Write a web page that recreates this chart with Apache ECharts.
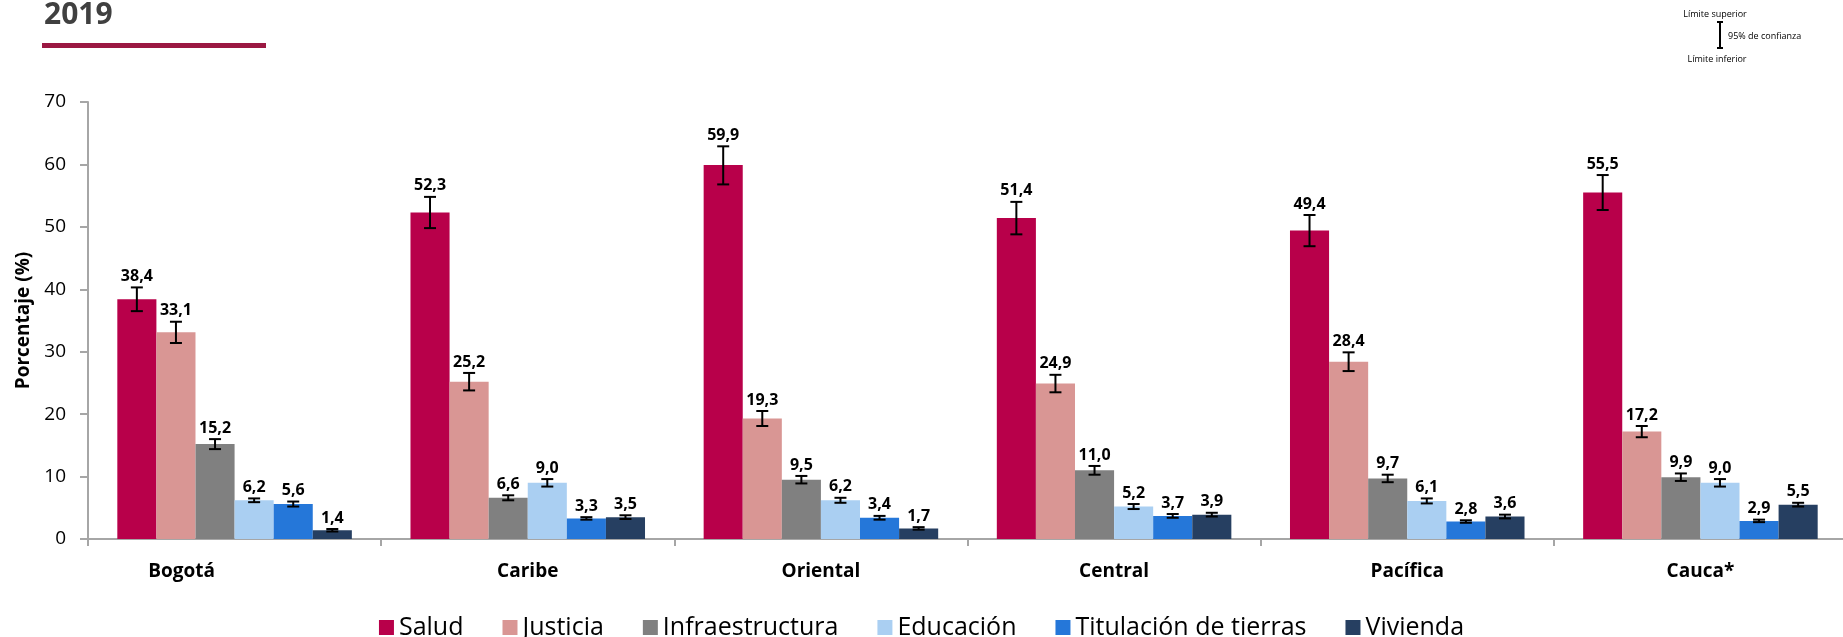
<!DOCTYPE html>
<html>
<head>
<meta charset="utf-8">
<script src="https://cdn.jsdelivr.net/npm/echarts@6/dist/echarts.min.js"></script>
<style>
html,body{margin:0;padding:0;background:#fff;}
#c{width:1843px;height:637px;}
</style>
</head>
<body>
<div id="c"></div>
<script>
const categories = ['Bogotá', 'Caribe', 'Oriental', 'Central', 'Pacífica', 'Cauca*'];
const seriesNames = ['Salud', 'Justicia', 'Infraestructura', 'Educación', 'Titulación de tierras', 'Vivienda'];
const colors = ['#B8004A', '#D99694', '#808080', '#AACFF2', '#2577D9', '#263F61'];

const salud = [38.4, 52.3, 59.9, 51.4, 49.4, 55.5];
const justicia = [33.1, 25.2, 19.3, 24.9, 28.4, 17.2];
const infraestructura = [15.2, 6.6, 9.5, 11.0, 9.7, 9.9];
const educacion = [6.2, 9.0, 6.2, 5.2, 6.1, 9.0];
const titulacion = [5.6, 3.3, 3.4, 3.7, 2.8, 2.9];
const vivienda = [1.4, 3.5, 1.7, 3.9, 3.6, 5.5];

// 95% confidence interval lower / upper limits
const saludLow = [36.5, 49.8, 56.8, 48.8, 46.9, 52.7];
const saludHigh = [40.3, 54.8, 62.9, 54.0, 51.9, 58.3];
const justiciaLow = [31.4, 23.8, 18.1, 23.5, 26.9, 16.3];
const justiciaHigh = [34.8, 26.6, 20.5, 26.3, 29.9, 18.1];
const infraLow = [14.4, 6.2, 8.9, 10.3, 9.1, 9.3];
const infraHigh = [16.0, 7.0, 10.1, 11.7, 10.3, 10.5];
const educLow = [5.9, 8.4, 5.8, 4.8, 5.7, 8.4];
const educHigh = [6.5, 9.6, 6.6, 5.6, 6.5, 9.6];
const titulLow = [5.2, 3.1, 3.1, 3.4, 2.6, 2.7];
const titulHigh = [6.0, 3.5, 3.7, 4.0, 3.0, 3.1];
const viviendaLow = [1.2, 3.2, 1.5, 3.6, 3.3, 5.2];
const viviendaHigh = [1.6, 3.8, 1.9, 4.2, 3.9, 5.8];

const yTicks = [0, 10, 20, 30, 40, 50, 60, 70];

const values = [salud, justicia, infraestructura, educacion, titulacion, vivienda];
const lows = [saludLow, justiciaLow, infraLow, educLow, titulLow, viviendaLow];
const highs = [saludHigh, justiciaHigh, infraHigh, educHigh, titulHigh, viviendaHigh];

const FONT = '"Open Sans", "Noto Sans", sans-serif';
const NSER = seriesNames.length;
const CAT_GAP = 0.2;

function fmt(v) { return v.toFixed(1).replace('.', ','); }

const series = [];
values.forEach(function (vals, i) {
  series.push({
    name: seriesNames[i],
    type: 'bar',
    data: vals,
    barGap: '0%',
    barCategoryGap: (CAT_GAP * 100) + '%',
    itemStyle: { color: colors[i] },
    emphasis: { disabled: true },
    z: 2
  });
});
values.forEach(function (vals, i) {
  series.push({
    type: 'custom',
    name: seriesNames[i] + '_err',
    data: vals.map(function (v, c) { return [c, lows[i][c], highs[i][c], v]; }),
    encode: { x: 0, y: [1, 2] },
    z: 5,
    silent: true,
    renderItem: function (params, api) {
      const c = api.value(0), lo = api.value(1), hi = api.value(2), v = api.value(3);
      const catW = api.size([1, 0])[0];
      const bw = catW * (1 - CAT_GAP) / NSER;
      const x = api.coord([c, 0])[0] + (i - (NSER - 1) / 2) * bw;
      const yLo = api.coord([c, lo])[1];
      const yHi = api.coord([c, hi])[1];
      const cap = 6;
      const ls = { stroke: '#000', lineWidth: 2 };
      return {
        type: 'group',
        children: [
          { type: 'line', shape: { x1: x, y1: yLo, x2: x, y2: yHi }, style: ls },
          { type: 'line', shape: { x1: x - cap, y1: yHi, x2: x + cap, y2: yHi }, style: ls },
          { type: 'line', shape: { x1: x - cap, y1: yLo, x2: x + cap, y2: yLo }, style: ls },
          { type: 'text', style: { text: fmt(v), x: x, y: yHi - 3, textAlign: 'center', textVerticalAlign: 'bottom', font: 'bold 16px ' + FONT, fill: '#000' } }
        ]
      };
    }
  });
});

const chart = echarts.init(document.getElementById('c'), null, { renderer: 'canvas' });
chart.setOption({
  animation: false,
  backgroundColor: '#fff',
  grid: { left: 88, right: -4, top: 102, bottom: 98, containLabel: false, outerBoundsMode: 'none' },
  legend: {
    data: seriesNames,
    top: 610,
    left: 'center',
    itemWidth: 15,
    itemHeight: 15,
    itemGap: 39,
    icon: 'rect',
    textStyle: { fontSize: 25, color: '#000', fontFamily: FONT },
    selectedMode: false
  },
  xAxis: {
    type: 'category',
    data: categories.map(function (c, k) {
      return k === 0 ? { value: c, textStyle: { padding: [0, 106, 0, 0] } } : c;
    }),
    axisLine: { lineStyle: { color: '#A6A6A6', width: 2 } },
    axisTick: { show: true, length: 7, lineStyle: { color: '#A6A6A6', width: 2 } },
    axisLabel: { fontSize: 19, fontWeight: 'bold', color: '#000', fontFamily: FONT, margin: 23 }
  },
  yAxis: {
    type: 'value',
    min: yTicks[0],
    max: yTicks[yTicks.length - 1],
    interval: 10,
    name: 'Porcentaje (%)',
    nameLocation: 'middle',
    nameGap: 55,
    nameTextStyle: { fontSize: 19, fontWeight: 'bold', color: '#000', fontFamily: FONT },
    axisLine: { show: true, lineStyle: { color: '#A6A6A6', width: 2 } },
    axisTick: { show: true, length: 8, lineStyle: { color: '#A6A6A6', width: 2 } },
    splitLine: { show: false },
    axisLabel: { fontSize: 19, color: '#000', fontFamily: FONT, margin: 22 }
  },
  graphic: [
    { type: 'text', left: 44, top: 0, style: { text: '2019', font: 'bold 30px ' + FONT, fill: '#404040' } },
    { type: 'rect', shape: { x: 42, y: 43, width: 224, height: 5 }, style: { fill: '#9B1842' } },
    { type: 'text', x: 1715, y: 14, style: { text: 'Límite superior', font: '9px ' + FONT, fill: '#000', textAlign: 'center', textVerticalAlign: 'middle' } },
    { type: 'line', shape: { x1: 1720, y1: 22, x2: 1720, y2: 48 }, style: { stroke: '#000', lineWidth: 2 } },
    { type: 'line', shape: { x1: 1717, y1: 22, x2: 1723, y2: 22 }, style: { stroke: '#000', lineWidth: 2 } },
    { type: 'line', shape: { x1: 1717, y1: 48, x2: 1723, y2: 48 }, style: { stroke: '#000', lineWidth: 2 } },
    { type: 'text', x: 1728, y: 36, style: { text: '95% de confianza', font: '9px ' + FONT, fill: '#000', textAlign: 'left', textVerticalAlign: 'middle' } },
    { type: 'text', x: 1717, y: 59, style: { text: 'Límite inferior', font: '9px ' + FONT, fill: '#000', textAlign: 'center', textVerticalAlign: 'middle' } }
  ],
  series: series
});
</script>
</body>
</html>
